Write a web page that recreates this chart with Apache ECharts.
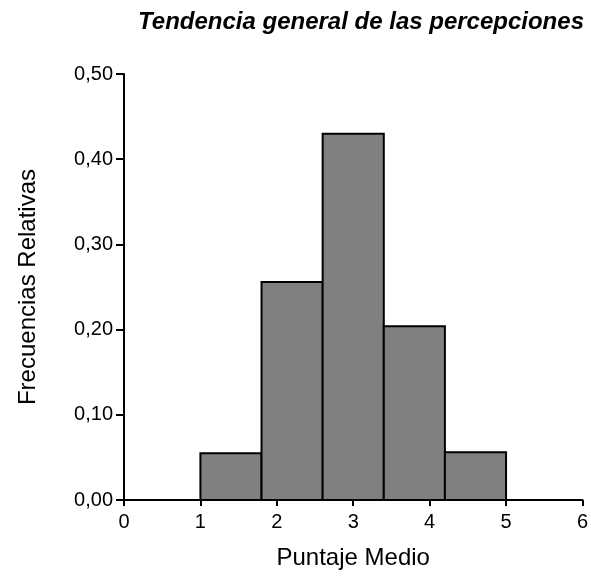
<!DOCTYPE html>
<html>
<head>
<meta charset="utf-8">
<script src="https://cdn.jsdelivr.net/npm/echarts@6/dist/echarts.min.js"></script>
<style>
  html, body { margin: 0; padding: 0; background: #fff; }
  #chart { width: 591px; height: 576px; }
</style>
</head>
<body>
<div id="chart"></div>
<script>
// histogram bins (puntaje medio) and relative frequencies
var binStart = [1.0, 1.8, 2.6, 3.4, 4.2];
var binEnd = [1.8, 2.6, 3.4, 4.2, 5.0];
var freq = [0.055, 0.256, 0.430, 0.204, 0.056];

var data = binStart.map(function (s, i) {
    return [s, binEnd[i], freq[i]];
});

var fmt = function (v) {
    return v.toFixed(2).replace('.', ',');
};

var chart = echarts.init(document.getElementById('chart'));
chart.setOption({
    animation: false,
    title: {
        text: 'Tendencia general de las percepciones',
        left: 356,
        textAlign: 'center',
        top: 5,
        textStyle: {
            fontFamily: 'Liberation Sans',
            fontSize: 24,
            fontWeight: 'bold',
            fontStyle: 'italic',
            color: '#000'
        }
    },
    grid: { left: 124, right: 7, top: 74, bottom: 76 },
    xAxis: {
        type: 'value',
        min: 0, max: 6, interval: 1,
        name: 'Puntaje Medio',
        nameLocation: 'middle',
        nameGap: 46,
        nameTextStyle: { fontFamily: 'Liberation Sans', fontSize: 24, color: '#000' },
        axisLine: { lineStyle: { color: '#000', width: 2 } },
        axisTick: { length: 6, lineStyle: { color: '#000', width: 2 } },
        axisLabel: { fontFamily: 'Liberation Sans', fontSize: 20, color: '#000', margin: 12 },
        splitLine: { show: false }
    },
    yAxis: {
        type: 'value',
        min: 0, max: 0.5, interval: 0.1,
        name: 'Frecuencias Relativas',
        nameLocation: 'middle',
        nameGap: 84,
        nameTextStyle: { fontFamily: 'Liberation Sans', fontSize: 24, color: '#000' },
        axisLine: { show: true, lineStyle: { color: '#000', width: 2 } },
        axisTick: { show: true, length: 8, lineStyle: { color: '#000', width: 2 } },
        axisLabel: { fontFamily: 'Liberation Sans', fontSize: 20, color: '#000', margin: 11, formatter: fmt },
        splitLine: { show: false }
    },
    series: [{
        type: 'custom',
        data: data,
        encode: { x: [0, 1], y: 2 },
        renderItem: function (params, api) {
            var p0 = api.coord([api.value(0), api.value(2)]);
            var p1 = api.coord([api.value(1), 0]);
            return {
                type: 'rect',
                shape: { x: p0[0], y: p0[1], width: p1[0] - p0[0], height: p1[1] - p0[1] },
                style: { fill: '#808080', stroke: '#000', lineWidth: 2 }
            };
        }
    }]
});
</script>
</body>
</html>
